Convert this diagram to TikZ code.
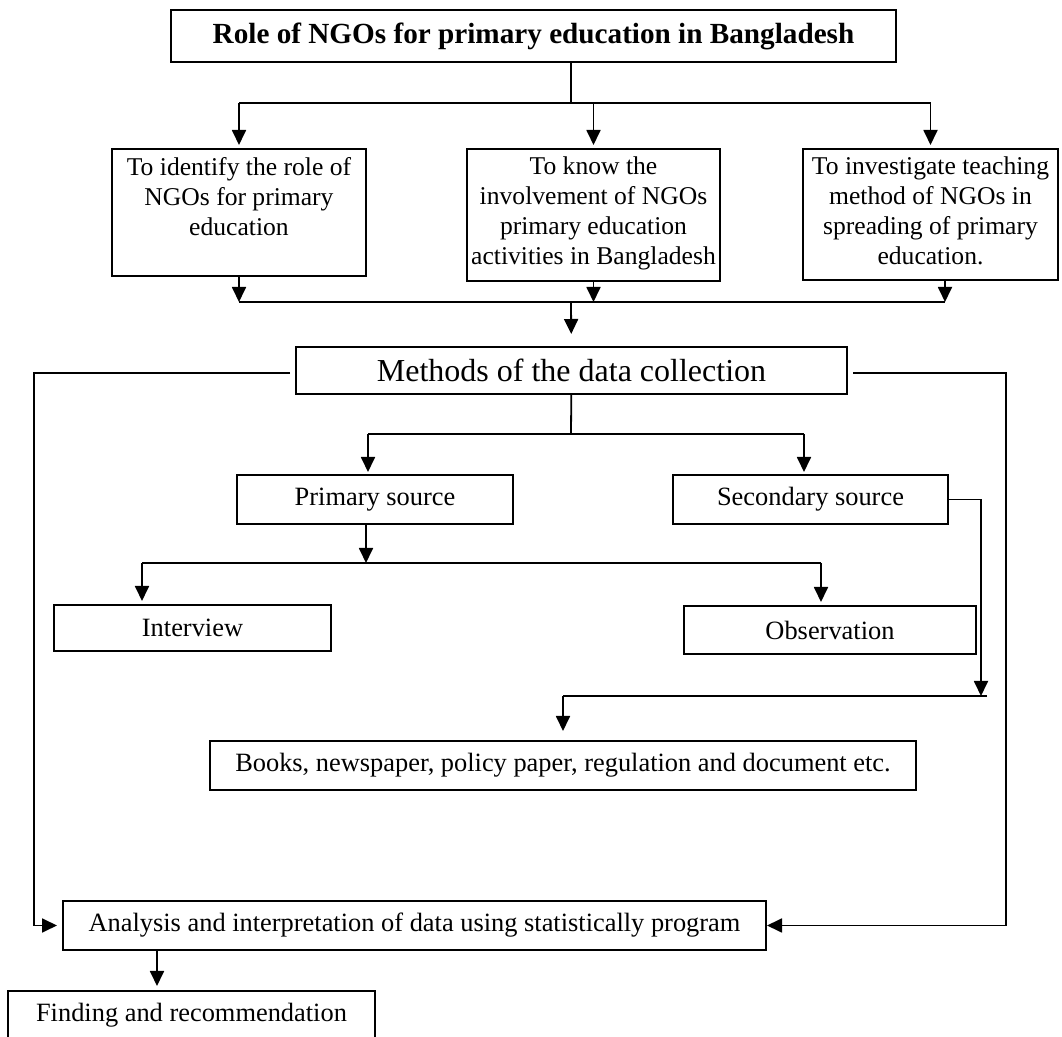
\documentclass[tikz,border=0pt]{standalone}
\usepackage{fontspec}
\setmainfont{Liberation Serif}
\usetikzlibrary{arrows.meta}

\begin{document}
\begin{tikzpicture}[
  x=0.5pt, y=-0.5pt,
  line width=0.9pt,
  box/.style={rectangle, draw, line width=1pt, inner sep=0pt, align=center,
    font=\fontsize{13.2}{15}\selectfont},
  objbox/.style={box, inner ysep=4pt, font=\fontsize{12.8}{15}\selectfont},
  arr/.style={-{Triangle[length=7.5pt,width=7pt]}},
]
\useasboundingbox (0,0) rectangle (1062,1037);

% Title
\node[box, minimum width=362.5pt, minimum height=26pt,
  font=\fontsize{14.6}{17}\selectfont\bfseries] (title) at (533.5,36)
  {Role of NGOs for primary education in Bangladesh};

% Objectives
\node[objbox] (obj1) at (239,212.5) {\parbox[c][55.5pt][t]{127pt}{\centering
  To identify the role of\\ NGOs for primary\\ education}};
\node[objbox] (obj2) at (593.5,215) {\parbox[c][58pt][t]{126.5pt}{\centering
  To know the\\ involvement of NGOs\\ primary education\\ activities in Bangladesh}};
\node[objbox] (obj3) at (930.5,214.5) {\parbox[c][57.5pt][t]{127.5pt}{\centering
  To investigate teaching\\ method of NGOs in\\ spreading of primary\\ education.}};

% Methods and sources
\node[box, minimum width=275.5pt, minimum height=23.5pt,
  font=\fontsize{16}{18}\selectfont] (meth) at (571.5,370.5) {Methods of the data collection};
\node[box, minimum width=138pt, minimum height=24.5pt] (prim) at (375,499.5) {Primary source};
\node[box, minimum width=137.5pt, minimum height=24.5pt] (sec) at (810.5,499.5) {Secondary source};
\node[box, minimum width=138.5pt, minimum height=23pt] (intv) at (192.5,628) {Interview};
\node[box, minimum width=146pt, minimum height=24pt] (obs) at (830,630) {Observation};
\node[box, minimum width=353pt, minimum height=24.5pt] (books) at (563,765.5)
  {Books, newspaper, policy paper, regulation and document etc.};

% Analysis and finding
\node[box, minimum width=351.5pt, minimum height=24.5pt] (anal) at (414.5,925.5)
  {Analysis and interpretation of data using statistically program};
\node[box, minimum width=183.5pt, minimum height=24.5pt] (find) at (191.5,1015.5)
  {Finding and recommendation};

% Title to objectives
\coordinate (j1) at (571,103);
\draw (title.south -| j1) -- (j1);
\draw (j1 -| obj1) -- (j1 -| obj3);
\foreach \o in {obj1,obj2,obj3}
  \draw[arr, shorten >=1.5pt] (j1 -| \o) -- (\o);

% Objectives to methods
\coordinate (j2) at (571,302);
\coordinate (j2r) at (945,302);
\draw[arr] (obj1) -- (obj1 |- j2);
\draw[arr] (obj2) -- (obj2 |- j2);
\draw[arr] (obj3.south -| j2r) -- (j2r);
\draw (obj1 |- j2) -- (j2r);
\draw[arr, shorten >=6pt] (j2) -- (meth);

% Methods to sources
\coordinate (j3) at (571,434);
\coordinate (j3l) at (368,434);
\coordinate (j3r) at (804,434);
\draw (meth) -- (j3);
\draw (j3l) -- (j3r);
\draw[arr, shorten >=1pt] (j3l) -- (j3l |- prim.north);
\draw[arr, shorten >=1pt] (j3r) -- (j3r |- sec.north);

% Primary source to interview and observation
\coordinate (j4) at (366,563);
\coordinate (j4l) at (142,563);
\coordinate (j4r) at (821,563);
\draw[arr] (prim.south -| j4) -- (j4);
\draw (j4l) -- (j4r);
\draw[arr, shorten >=1.5pt] (j4l) -- (j4l |- intv.north);
\draw[arr, shorten >=1.5pt] (j4r) -- (j4r |- obs.north);

% Secondary source to books
\coordinate (j5) at (981,696);
\draw[arr] (sec.east) -| (j5);
\draw ([xshift=3pt]j5) -- (j5 -| books);
\draw[arr, shorten >=4.5pt] (j5 -| books) -- (books);

% Side lines to analysis
\coordinate (cl) at (34,373);
\coordinate (cr) at (1006,373);
\draw[arr, shorten >=2.5pt] ([xshift=-2.5pt]meth.west |- cl) -- (cl) |- (anal.west);
\draw[arr] ([xshift=2.5pt]meth.east |- cr) -- (cr) |- (anal.east);

% Analysis to finding
\coordinate (j6) at (157,950);
\draw[arr, shorten >=2pt] (anal.south -| j6) -- (j6 |- find.north);

\end{tikzpicture}
\end{document}
